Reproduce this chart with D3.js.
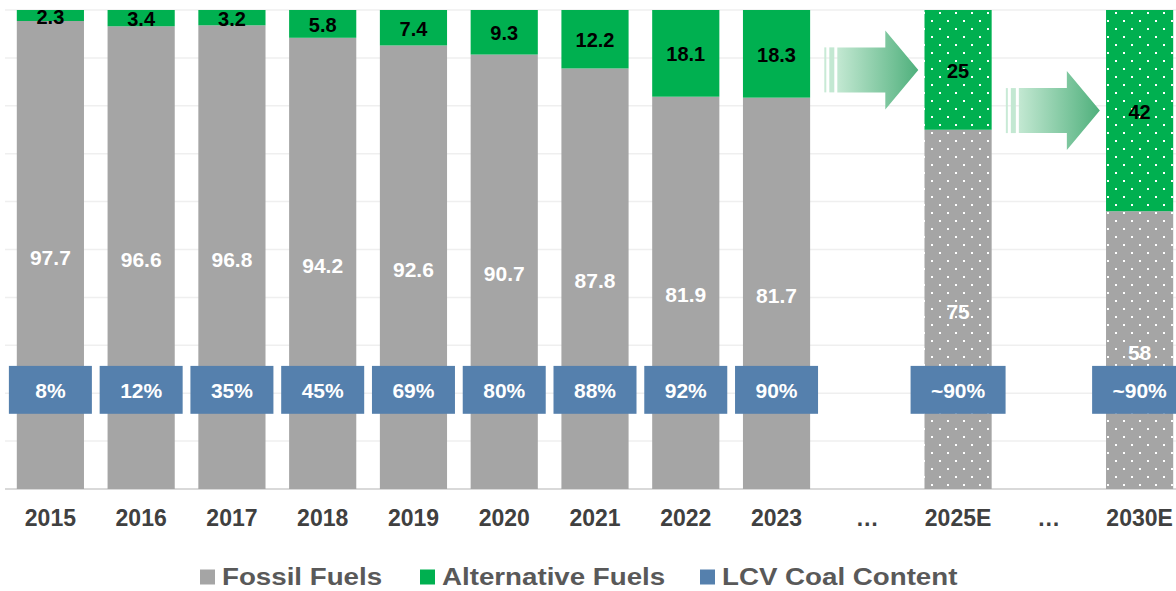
<!DOCTYPE html>
<html>
<head>
<meta charset="utf-8">
<script src="https://cdn.jsdelivr.net/npm/d3@7"></script>
<style>
  html, body { margin: 0; padding: 0; background: #ffffff; }
  svg { display: block; font-family: "Liberation Sans", Arial, sans-serif; }
</style>
</head>
<body>
<svg id="chart" width="1176" height="591"></svg>
<script>
const categories = ["2015", "2016", "2017", "2018", "2019", "2020", "2021", "2022", "2023", "…", "2025E", "…", "2030E"];
const fossilFuels = [97.7, 96.6, 96.8, 94.2, 92.6, 90.7, 87.8, 81.9, 81.7, null, 75, null, 58];
const alternativeFuels = [2.3, 3.4, 3.2, 5.8, 7.4, 9.3, 12.2, 18.1, 18.3, null, 25, null, 42];
const coalContent = ["8%", "12%", "35%", "45%", "69%", "80%", "88%", "92%", "90%", null, "~90%", null, "~90%"];
const estimated = [false, false, false, false, false, false, false, false, false, false, true, false, true];
const yTicks = [10, 20, 30, 40, 50, 60, 70, 80, 90, 100];
const legendItems = ["Fossil Fuels", "Alternative Fuels", "LCV Coal Content"];

const GRAY = "#a5a5a5", GREEN = "#00b050", BLUE = "#5580ad";

const svg = d3.select("#chart");
const keys = categories.map((c, i) => i);

const x = d3.scaleBand().domain(keys).range([5, 1185]).paddingInner(0.26).paddingOuter(0.13);
const y = d3.scaleLinear().domain([0, 100]).range([489, 10]);

// dotted patterns for the estimate bars
const defs = svg.append("defs");
[["dotsGray", GRAY], ["dotsGreen", GREEN]].forEach(([id, col]) => {
  const p = defs.append("pattern").attr("id", id).attr("patternUnits", "userSpaceOnUse")
    .attr("width", 16).attr("height", 16);
  p.append("rect").attr("width", 16).attr("height", 16).attr("fill", col);
  p.append("rect").attr("x", 3).attr("y", 4).attr("width", 2).attr("height", 2).attr("fill", "#fff");
  p.append("rect").attr("x", 11).attr("y", 12).attr("width", 2).attr("height", 2).attr("fill", "#fff");
});
const grad = defs.append("linearGradient").attr("id", "arrowGrad").attr("x1", 0).attr("x2", 1);
grad.append("stop").attr("offset", 0).attr("stop-color", "#c3e8d2");
grad.append("stop").attr("offset", 1).attr("stop-color", "#4fb07c");

// gridlines
svg.append("g").selectAll("line").data(yTicks).join("line")
  .attr("x1", 5).attr("x2", 1185)
  .attr("y1", d => y(d)).attr("y2", d => y(d))
  .attr("stroke", "#efefef").attr("stroke-width", 1.5);
svg.append("line").attr("x1", 5).attr("x2", 1185).attr("y1", y(0)).attr("y2", y(0))
  .attr("stroke", "#d9d9d9").attr("stroke-width", 2);

const bars = keys.filter(i => fossilFuels[i] != null);
const bw = x.bandwidth();

// fossil segments
svg.append("g").selectAll("rect").data(bars).join("rect")
  .attr("x", i => x(i)).attr("width", bw)
  .attr("y", i => y(fossilFuels[i])).attr("height", i => y(0) - y(fossilFuels[i]))
  .attr("fill", i => estimated[i] ? "url(#dotsGray)" : GRAY);

// alternative segments
svg.append("g").selectAll("rect").data(bars).join("rect")
  .attr("x", i => x(i)).attr("width", bw)
  .attr("y", i => y(fossilFuels[i] + alternativeFuels[i]))
  .attr("height", i => y(fossilFuels[i]) - y(fossilFuels[i] + alternativeFuels[i]))
  .attr("fill", i => estimated[i] ? "url(#dotsGreen)" : GREEN);

// value labels
svg.append("g").selectAll("text").data(bars).join("text")
  .attr("x", i => x(i) + bw / 2).attr("y", i => y(fossilFuels[i] / 2) + 2)
  .attr("text-anchor", "middle").attr("dominant-baseline", "central")
  .attr("fill", "#fff").attr("font-weight", "bold").attr("font-size", 21)
  .text(i => fossilFuels[i]);
svg.append("g").selectAll("text").data(bars).join("text")
  .attr("x", i => x(i) + bw / 2).attr("y", i => y(fossilFuels[i] + alternativeFuels[i] / 2) + 1)
  .attr("text-anchor", "middle").attr("dominant-baseline", "central")
  .attr("fill", "#000").attr("font-weight", "bold").attr("font-size", 20)
  .text(i => alternativeFuels[i]);

// LCV coal content boxes
const boxes = svg.append("g").selectAll("g").data(bars).join("g");
boxes.append("rect")
  .attr("x", i => x(i) + bw / 2 - (estimated[i] ? 47.5 : 41.5))
  .attr("width", i => estimated[i] ? 95 : 83)
  .attr("y", y(25.7)).attr("height", y(15.7) - y(25.7))
  .attr("fill", BLUE);
boxes.append("text")
  .attr("x", i => x(i) + bw / 2).attr("y", y(20.7) + 1)
  .attr("text-anchor", "middle").attr("dominant-baseline", "central")
  .attr("fill", "#fff").attr("font-weight", "bold").attr("font-size", 21)
  .text(i => coalContent[i]);

// arrows in the gap columns, pointing at the next estimate
const gaps = keys.filter(i => fossilFuels[i] == null);
svg.append("g").selectAll("g").data(gaps).join("g")
  .attr("transform", i => {
    const n = i + 1;
    const cx = x(i) + bw / 2 + 4;
    return `translate(${cx - 47},${y(fossilFuels[n] + alternativeFuels[n] / 2)})`;
  })
  .each(function () {
    const g = d3.select(this);
    g.append("rect").attr("x", 0).attr("y", -22.5).attr("width", 2).attr("height", 45).attr("fill", "#c8ead6");
    g.append("rect").attr("x", 5).attr("y", -22.5).attr("width", 5).attr("height", 45).attr("fill", "#c3e8d2");
    g.append("path")
      .attr("d", "M13,-22.5 H61 V-39.5 L94,0 L61,39.5 V22.5 H13 Z")
      .attr("fill", "url(#arrowGrad)");
  });

// category axis
const xAxis = svg.append("g").attr("transform", `translate(0,${y(0)})`)
  .call(d3.axisBottom(x).tickSize(0).tickPadding(21).tickFormat(i => categories[i]));
xAxis.select(".domain").remove();
xAxis.selectAll("text")
  .attr("font-family", "Liberation Sans, Arial, sans-serif")
  .attr("font-size", 23).attr("font-weight", "bold").attr("fill", "#404040");

// legend (text is a little wider than normal in the original)
const legendX = [200, 420, 700];
const lg = svg.append("g").selectAll("g").data(legendItems).join("g")
  .attr("transform", (d, i) => `translate(${legendX[i]},577)`);
lg.append("rect").attr("x", 0).attr("y", -7.5).attr("width", 15).attr("height", 15)
  .attr("fill", (d, i) => [GRAY, GREEN, BLUE][i]);
lg.append("text").attr("transform", "translate(22,0) scale(1.155,1)")
  .attr("dominant-baseline", "central")
  .attr("font-size", 24).attr("font-weight", "bold").attr("fill", "#595959")
  .text(d => d);
</script>
</body>
</html>
